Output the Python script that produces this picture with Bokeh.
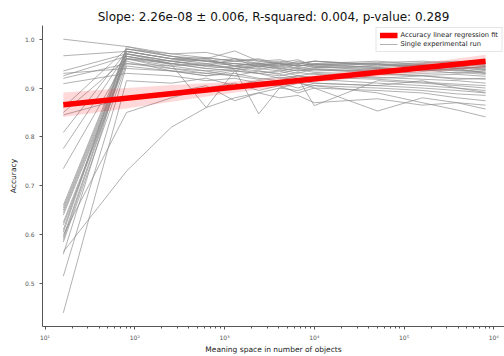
from bokeh.plotting import figure
from bokeh.models import (ColumnDataSource, FixedTicker, PrintfTickFormatter,
                          CustomJSTickFormatter, Range1d, Legend, LegendItem)
from bokeh.embed import file_html
from bokeh.resources import INLINE

# ---- data -------------------------------------------------------------
sizes = [16, 81, 256, 625, 1296, 2401, 4096, 6561, 10000, 50625, 160000, 390625, 810000]

run01 = [1.000, 0.985, 0.965, 0.955, 0.950, 0.948, 0.952, 0.945, 0.950, 0.942, 0.946, 0.940, 0.944]
run02 = [0.966, 0.975, 0.960, 0.962, 0.955, 0.950, 0.945, 0.955, 0.948, 0.950, 0.940, 0.945, 0.938]
run03 = [0.935, 0.970, 0.955, 0.945, 0.960, 0.942, 0.950, 0.940, 0.945, 0.935, 0.942, 0.936, 0.930]
run04 = [0.930, 0.940, 0.935, 0.925, 0.930, 0.920, 0.915, 0.925, 0.918, 0.910, 0.905, 0.900, 0.891]
run05 = [0.925, 0.965, 0.950, 0.958, 0.945, 0.952, 0.940, 0.948, 0.955, 0.945, 0.950, 0.948, 0.950]
run06 = [0.920, 0.950, 0.945, 0.935, 0.940, 0.935, 0.930, 0.938, 0.932, 0.928, 0.925, 0.920, 0.918]
run07 = [0.909, 0.930, 0.925, 0.915, 0.920, 0.910, 0.905, 0.912, 0.900, 0.895, 0.890, 0.880, 0.874]
run08 = [0.860, 0.980, 0.970, 0.973, 0.960, 0.955, 0.958, 0.950, 0.955, 0.948, 0.945, 0.950, 0.946]
run09 = [0.850, 0.960, 0.950, 0.940, 0.935, 0.945, 0.938, 0.930, 0.940, 0.932, 0.938, 0.930, 0.935]
run10 = [0.845, 0.880, 0.890, 0.905, 0.874, 0.890, 0.880, 0.885, 0.870, 0.878, 0.865, 0.870, 0.857]
run11 = [0.809, 0.975, 0.960, 0.950, 0.955, 0.960, 0.950, 0.945, 0.950, 0.955, 0.948, 0.945, 0.940]
run12 = [0.776, 0.970, 0.955, 0.945, 0.950, 0.945, 0.940, 0.935, 0.942, 0.940, 0.935, 0.938, 0.932]
run13 = [0.735, 0.960, 0.945, 0.950, 0.940, 0.930, 0.935, 0.925, 0.930, 0.922, 0.918, 0.915, 0.910]
run14 = [0.660, 0.980, 0.965, 0.960, 0.976, 0.955, 0.950, 0.945, 0.948, 0.952, 0.955, 0.950, 0.948]
run15 = [0.655, 0.975, 0.960, 0.955, 0.950, 0.945, 0.952, 0.958, 0.945, 0.940, 0.938, 0.942, 0.936]
run16 = [0.650, 0.970, 0.950, 0.945, 0.940, 0.948, 0.942, 0.935, 0.938, 0.930, 0.926, 0.928, 0.924]
run17 = [0.645, 0.965, 0.948, 0.860, 0.935, 0.930, 0.925, 0.932, 0.928, 0.920, 0.925, 0.918, 0.920]
run18 = [0.625, 0.960, 0.940, 0.935, 0.925, 0.935, 0.928, 0.920, 0.864, 0.915, 0.910, 0.905, 0.900]
run19 = [0.620, 0.955, 0.935, 0.930, 0.938, 0.847, 0.900, 0.910, 0.905, 0.900, 0.895, 0.888, 0.885]
run20 = [0.605, 0.980, 0.965, 0.955, 0.945, 0.950, 0.955, 0.948, 0.942, 0.945, 0.948, 0.940, 0.942]
run21 = [0.600, 0.850, 0.880, 0.900, 0.910, 0.895, 0.905, 0.890, 0.900, 0.853, 0.880, 0.870, 0.865]
run22 = [0.595, 0.970, 0.955, 0.960, 0.945, 0.940, 0.935, 0.942, 0.938, 0.935, 0.930, 0.932, 0.928]
run23 = [0.590, 0.965, 0.950, 0.940, 0.945, 0.938, 0.945, 0.940, 0.935, 0.938, 0.940, 0.935, 0.938]
run24 = [0.585, 0.950, 0.940, 0.930, 0.925, 0.918, 0.922, 0.915, 0.910, 0.905, 0.900, 0.895, 0.890]
run25 = [0.565, 0.730, 0.820, 0.860, 0.880, 0.890, 0.900, 0.895, 0.905, 0.890, 0.870, 0.855, 0.841]
run26 = [0.560, 0.975, 0.960, 0.955, 0.960, 0.950, 0.945, 0.950, 0.955, 0.948, 0.952, 0.955, 0.950]
run27 = [0.515, 0.945, 0.935, 0.925, 0.935, 0.930, 0.920, 0.925, 0.922, 0.918, 0.912, 0.908, 0.905]
run28 = [0.440, 0.915, 0.910, 0.920, 0.905, 0.915, 0.910, 0.900, 0.910, 0.905, 0.915, 0.900, 0.895]
run29 = [0.640, 0.960, 0.955, 0.948, 0.940, 0.945, 0.950, 0.945, 0.948, 0.942, 0.935, 0.940, 0.930]
run30 = [0.610, 0.985, 0.970, 0.962, 0.955, 0.958, 0.948, 0.952, 0.945, 0.950, 0.945, 0.948, 0.944]

runs = [run01, run02, run03, run04, run05, run06, run07, run08, run09, run10,
        run11, run12, run13, run14, run15, run16, run17, run18, run19, run20,
        run21, run22, run23, run24, run25, run26, run27, run28, run29, run30]

fit_x = [16, 810000]
fit_y = [0.866, 0.955]

ci_x = [16, 81, 256, 1000, 10000, 100000, 810000]
ci_lower = [0.841, 0.858, 0.872, 0.888, 0.912, 0.928, 0.942]
ci_upper = [0.891, 0.900, 0.906, 0.912, 0.926, 0.946, 0.968]

y_ticks = [0.5, 0.6, 0.7, 0.8, 0.9, 1.0]

title_text = "Slope: 2.26e-08 \u00b1 0.006, R-squared: 0.004, p-value: 0.289"
x_label = "Meaning space in number of objects"
y_label = "Accuracy"
fit_label = "Accuracy linear regression fit"
run_label = "Single experimental run"

FONT = "DejaVu Sans"

# ---- figure -----------------------------------------------------------
p = figure(width=504, height=356, x_axis_type="log",
           x_range=Range1d(10 ** 0.972, 10 ** 6.119),
           y_range=Range1d(0.412, 1.028),
           output_backend="svg", toolbar_location=None,
           title=title_text,
           min_border_left=42, min_border_right=0,
           min_border_top=25, min_border_bottom=29)

p.outline_line_color = None
p.xgrid.visible = False
p.ygrid.visible = False
p.background_fill_color = "white"
p.border_fill_color = "white"

p.title.text_font = FONT
p.title.text_font_size = "12px"
p.title.text_font_style = "normal"
p.title.text_color = "#111111"
p.title.align = "center"
p.title.standoff = 4

runs_src = ColumnDataSource(data=dict(xs=[sizes] * len(runs), ys=runs))
gray = p.multi_line(xs="xs", ys="ys", source=runs_src, line_color="#8a8a8a",
                    line_alpha=0.75, line_width=0.9)

p.varea(x=ci_x, y1=ci_lower, y2=ci_upper, fill_color="red", fill_alpha=0.15)
red = p.line(x=fit_x, y=fit_y, line_color="red", line_width=5.5)

legend = Legend(items=[LegendItem(label=fit_label, renderers=[red]),
                       LegendItem(label=run_label, renderers=[gray])],
                location="top_right")
legend.margin = 2
legend.padding = 3
legend.spacing = 1
legend.label_standoff = 3
legend.glyph_width = 18
legend.glyph_height = 8
legend.label_height = 8
legend.label_text_font = FONT
legend.label_text_font_size = "6.7px"
legend.label_text_color = "#222222"
legend.border_line_color = "#cccccc"
legend.background_fill_alpha = 0.85
p.add_layout(legend)

# axes
for ax in (p.xaxis[0], p.yaxis[0]):
    ax.axis_line_color = "#555555"
    ax.major_tick_line_color = "#555555"
    ax.minor_tick_line_color = "#555555"
    ax.major_tick_in = 0
    ax.minor_tick_in = 0
    ax.major_label_text_font = FONT
    ax.major_label_text_font_size = "6px"
    ax.major_label_text_color = "#555555"
    ax.axis_label_text_font = FONT
    ax.axis_label_text_font_size = "7.5px"
    ax.axis_label_text_font_style = "normal"
    ax.axis_label_text_color = "#222222"

p.yaxis.ticker = FixedTicker(ticks=y_ticks)
p.yaxis.formatter = PrintfTickFormatter(format="%.1f")
p.yaxis.major_tick_out = 3
p.yaxis.minor_tick_out = 0
p.yaxis.major_label_standoff = 5
p.yaxis.axis_label = y_label
p.yaxis.axis_label_standoff = 4

p.xaxis.major_tick_out = 3
p.xaxis.minor_tick_out = 2
p.xaxis.major_label_standoff = 4
p.xaxis.axis_label = x_label
p.xaxis.axis_label_standoff = 1
p.xaxis.formatter = CustomJSTickFormatter(code="""
const sup = {"0":"\u2070","1":"\u00b9","2":"\u00b2","3":"\u00b3","4":"\u2074",
             "5":"\u2075","6":"\u2076","7":"\u2077","8":"\u2078","9":"\u2079","-":"\u207b"};
const e = Math.round(Math.log10(tick)).toString();
return "10" + e.split("").map(c => sup[c]).join("");
""")

open("out.html", "w").write(file_html(p, INLINE))
